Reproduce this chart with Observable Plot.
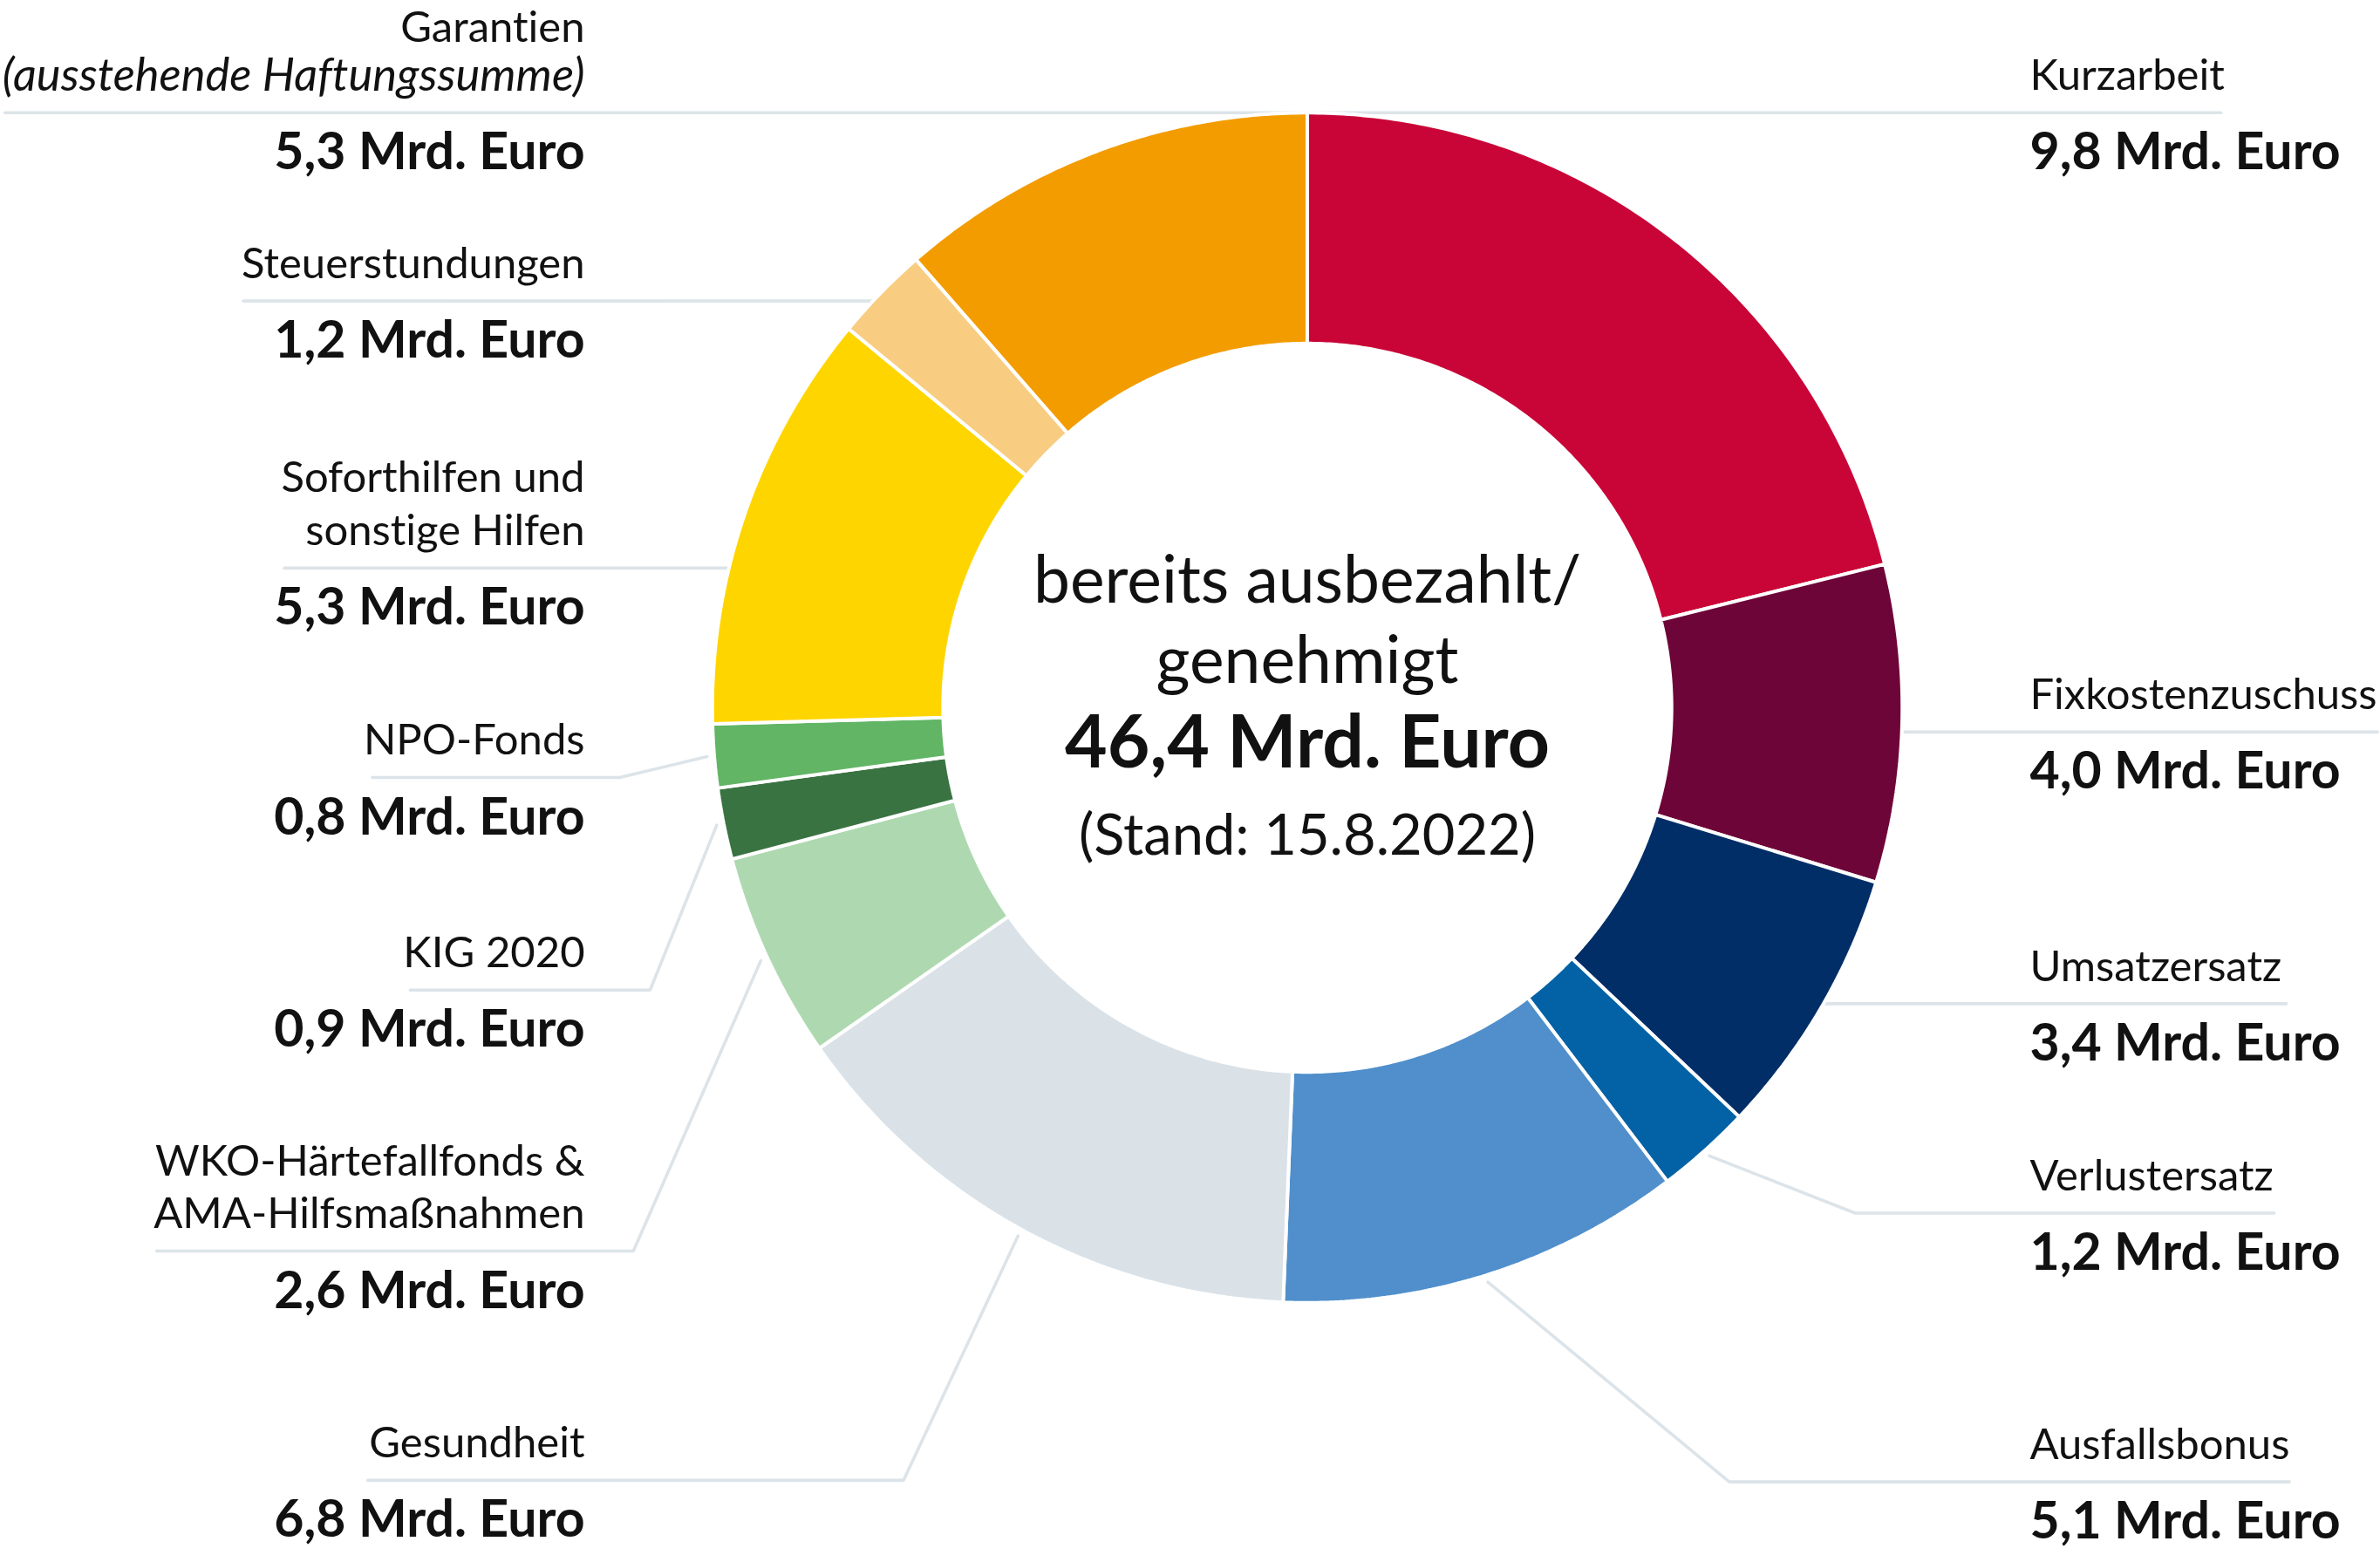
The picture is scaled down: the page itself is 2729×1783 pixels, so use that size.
<!DOCTYPE html>
<html>
<head>
<meta charset="utf-8">
<script src="https://cdn.jsdelivr.net/npm/d3@7"></script>
<script src="https://cdn.jsdelivr.net/npm/@observablehq/plot@0.6"></script>
<style>
  html, body { margin: 0; padding: 0; background: #ffffff; }
  #chart svg { display: block; }
  #chart svg text { font-variant-ligatures: none; font-feature-settings: "liga" 0, "clig" 0; }
</style>
</head>
<body>
<div id="chart"></div>
<script>
// ---------------- DATA ----------------
const categories = [
  "Kurzarbeit", "Fixkostenzuschuss", "Umsatzersatz", "Verlustersatz",
  "Ausfallsbonus", "Gesundheit", "WKO-Härtefallfonds & AMA-Hilfsmaßnahmen",
  "KIG 2020", "NPO-Fonds", "Soforthilfen und sonstige Hilfen",
  "Steuerstundungen", "Garantien"
];
const values = [9.8, 4.0, 3.4, 1.2, 5.1, 6.8, 2.6, 0.9, 0.8, 5.3, 1.2, 5.3];
const colors = [
  "#c90538", "#6e0538", "#022e68", "#0262a5", "#508fcb", "#dae2e8",
  "#aed9b0", "#3a7342", "#61b565", "#ffd500", "#f8cd82", "#f39c00"
];
const nameLines = [
  ["Kurzarbeit"], ["Fixkostenzuschuss"], ["Umsatzersatz"], ["Verlustersatz"],
  ["Ausfallsbonus"], ["Gesundheit"], ["WKO-Härtefallfonds &", "AMA-Hilfsmaßnahmen"],
  ["KIG 2020"], ["NPO-Fonds"], ["Soforthilfen und", "sonstige Hilfen"],
  ["Steuerstundungen"], ["Garantien"]
];
const noteLines = ["", "", "", "", "", "", "", "", "", "", "", "(ausstehende Haftungssumme)"];
const centerLines = ["bereits ausbezahlt/", "genehmigt"];
const totalValue = 46.4;
const dateNote = "(Stand: 15.8.2022)";
const unit = "Mrd. Euro";

// ---------------- LAYOUT (reference units 1568 x 1024.5) ----------------
const W = 2729, H = 1783, U = 1568, V = 1024.5;
const CX = 861, CY = 466, R_OUT = 392, R_IN = 240;
const labelLayout = [
  {side: "right", lineY: 74,  outerX: 1463, kinkX: null},
  {side: "right", lineY: 482, outerX: 1566, kinkX: null},
  {side: "right", lineY: 661, outerX: 1506, kinkX: null},
  {side: "right", lineY: 799, outerX: 1498, kinkX: 1222},
  {side: "right", lineY: 976, outerX: 1508, kinkX: 1139},
  {side: "left",  lineY: 975, outerX: 242,  kinkX: 595},
  {side: "left",  lineY: 824, outerX: 103,  kinkX: 417},
  {side: "left",  lineY: 652, outerX: 270,  kinkX: 428},
  {side: "left",  lineY: 512, outerX: 245,  kinkX: 408},
  {side: "left",  lineY: 374, outerX: 187,  kinkX: null},
  {side: "left",  lineY: 198, outerX: 160,  kinkX: null},
  {side: "left",  lineY: 74,  outerX: 3,    kinkX: null}
];
const TEXT_X = {left: 385, right: 1337};

const fmt = v => v.toFixed(1).replace(".", ",") + " " + unit;

// ---------------- GEOMETRY ----------------
const arcs = d3.pie().sort(null).value(d => d).startAngle(0).endAngle(2 * Math.PI)(values);
const pt = (a, r) => ({x: CX + r * Math.sin(a), y: CY - r * Math.cos(a)});

const slicePts = [];
arcs.forEach((a, i) => {
  const n = Math.max(6, Math.ceil((a.endAngle - a.startAngle) / (Math.PI / 360)));
  for (let k = 0; k <= n; k++) {
    const t = a.startAngle + (a.endAngle - a.startAngle) * k / n;
    slicePts.push({name: categories[i], ...pt(t, R_OUT)});
  }
  for (let k = n; k >= 0; k--) {
    const t = a.startAngle + (a.endAngle - a.startAngle) * k / n;
    slicePts.push({name: categories[i], ...pt(t, R_IN)});
  }
});

const leaderPts = [];
arcs.forEach((a, i) => {
  const L = labelLayout[i];
  const sgn = L.side === "left" ? -1 : 1;
  leaderPts.push({name: categories[i], x: L.outerX, y: L.lineY});
  if (L.kinkX == null) {
    const dy = L.lineY - CY;
    const dx = Math.sqrt(Math.max(0, R_OUT * R_OUT - dy * dy));
    leaderPts.push({name: categories[i], x: CX + sgn * dx, y: L.lineY});
  } else {
    leaderPts.push({name: categories[i], x: L.kinkX, y: L.lineY});
    const mid = (a.startAngle + a.endAngle) / 2;
    leaderPts.push({name: categories[i], ...pt(mid, R_OUT * 1.012)});
  }
});

// text rows
const rows = [];
categories.forEach((c, i) => {
  const L = labelLayout[i];
  const x = TEXT_X[L.side];
  const stack = nameLines[i].map(t => ({text: t, style: "regular"}));
  if (noteLines[i]) stack.push({text: noteLines[i], style: "italic"});
  const nL = stack.length;
  const gap = noteLines[i] ? 32 : 35;
  stack.forEach((s, k) => {
    rows.push({side: L.side, style: s.style, text: s.text, x, y: L.lineY - 24 - gap * (nL - 1 - k)});
  });
  rows.push({side: L.side, style: "bold", text: fmt(values[i]), x, y: L.lineY + 26.5});
});

const centerRows = [
  {text: centerLines[0], y: 383, style: "regular", size: 75},
  {text: centerLines[1], y: 436, style: "regular", size: 75},
  {text: fmt(totalValue), y: 490, style: "bold", size: 84},
  {text: dateNote, y: 551, style: "regular", size: 65}
];

const FONT = "Lato, 'Open Sans', 'DejaVu Sans', sans-serif";
const SIZES = {regular: 49, italic: 52.5, bold: 59};
const textMarks = [];
for (const side of ["left", "right"]) {
  for (const style of ["regular", "italic", "bold"]) {
    const d = rows.filter(r => r.side === side && r.style === style);
    if (!d.length) continue;
    textMarks.push(Plot.text(d, {
      x: "x", y: "y", text: "text",
      textAnchor: side === "left" ? "end" : "start",
      fontSize: SIZES[style],
      fontWeight: style === "bold" ? 700 : 400,
      fontStyle: style === "italic" ? "italic" : "normal",
      fill: "#111111",
      fontFamily: FONT
    }));
  }
}
for (const r of centerRows) {
  textMarks.push(Plot.text([r], {
    x: () => CX, y: "y", text: "text", textAnchor: "middle",
    fontSize: r.size, fontWeight: r.style === "bold" ? 700 : 400,
    fill: "#111111", fontFamily: FONT
  }));
}

const chart = Plot.plot({
  width: W, height: H,
  margin: 0,
  x: {domain: [0, U], range: [0, W], axis: null},
  y: {domain: [0, V], range: [0, H], axis: null},
  color: {domain: categories, range: colors},
  style: {background: "#ffffff", fontFamily: FONT},
  marks: [
    Plot.line(leaderPts, {x: "x", y: "y", z: "name", stroke: "#dce4e9", strokeWidth: 3.6, strokeLinejoin: "miter"}),
    Plot.line(slicePts, {x: "x", y: "y", z: "name", fill: "name", stroke: "#ffffff", strokeWidth: 4, curve: "linear-closed", strokeLinejoin: "miter"}),
    ...textMarks
  ]
});
document.getElementById("chart").appendChild(chart);
</script>
</body>
</html>
